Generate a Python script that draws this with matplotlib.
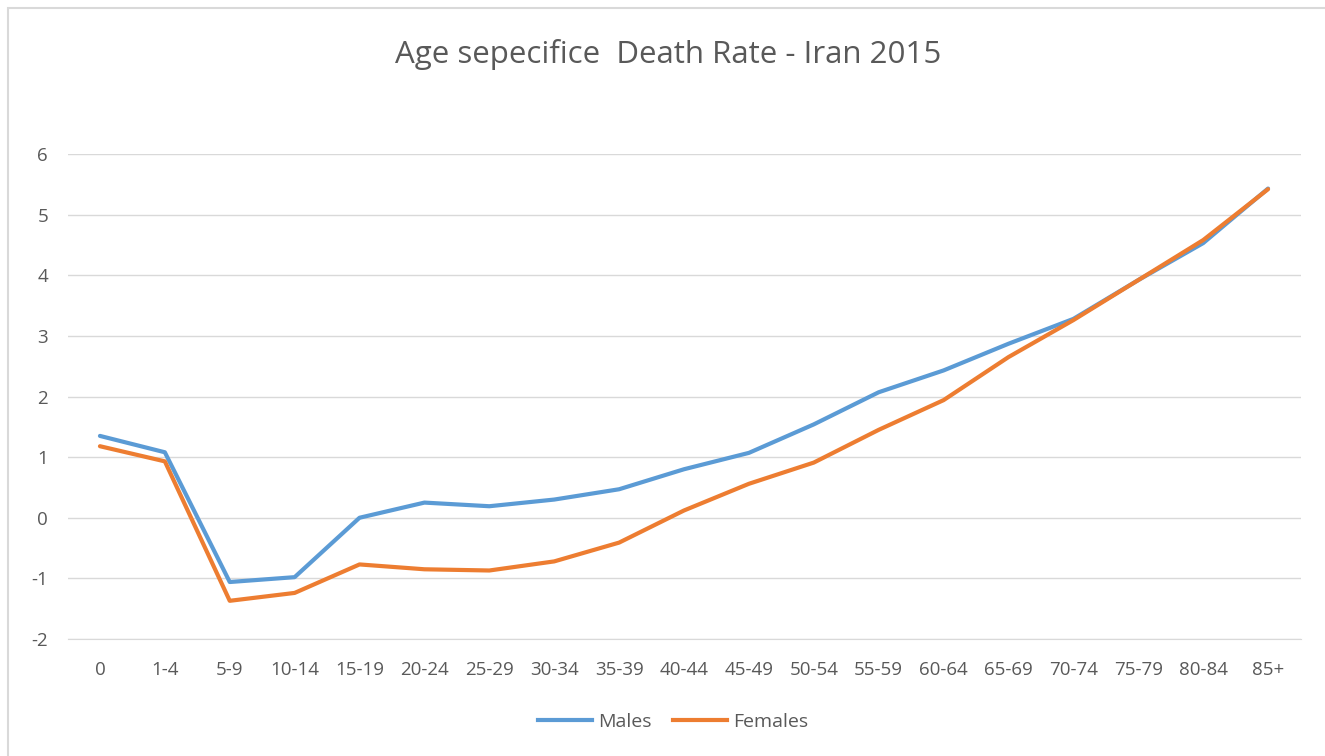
import matplotlib
matplotlib.use("Agg")
import matplotlib.pyplot as plt
from matplotlib.patches import Rectangle
from matplotlib.lines import Line2D

categories = ["0", "1-4", "5-9", "10-14", "15-19", "20-24", "25-29", "30-34", "35-39",
              "40-44", "45-49", "50-54", "55-59", "60-64", "65-69", "70-74", "75-79",
              "80-84", "85+"]
males = [1.35, 1.08, -1.06, -0.98, 0.00, 0.25, 0.19, 0.30, 0.47, 0.80, 1.07, 1.54,
         2.07, 2.43, 2.87, 3.28, 3.92, 4.53, 5.43]
females = [1.18, 0.93, -1.37, -1.24, -0.77, -0.85, -0.87, -0.72, -0.41, 0.12, 0.56,
           0.91, 1.45, 1.94, 2.65, 3.26, 3.92, 4.58, 5.42]
yticks = [-2, -1, 0, 1, 2, 3, 4, 5, 6]

plt.rcParams['font.family'] = ['Open Sans', 'DejaVu Sans']
W, H = 1325, 756
fig = plt.figure(figsize=(W / 100, H / 100), dpi=100)
ax = fig.add_axes([67.5 / W, (H - 639) / H, 1233 / W, 485 / H])

x = list(range(len(categories)))
blue = "#5B9BD5"
orange = "#ED7D31"
ax.plot(x, males, color=blue, lw=3, solid_joinstyle='round', solid_capstyle='round', zorder=3)
ax.plot(x, females, color=orange, lw=3, solid_joinstyle='round', solid_capstyle='round', zorder=4)

ax.set_xlim(-0.5, len(categories) - 0.5)
ax.set_ylim(-2, 6)
ax.set_yticks(yticks)
ax.set_yticklabels([str(v) for v in yticks])
ax.set_xticks(x)
ax.set_xticklabels(categories)
ax.grid(axis='y', color="#D9D9D9", lw=1)
ax.set_axisbelow(True)
for s in ax.spines.values():
    s.set_visible(False)
ax.tick_params(axis='both', length=0, labelsize=13.5, labelcolor="#595959")
ax.tick_params(axis='y', pad=14)
ax.tick_params(axis='x', pad=16)
ax.spines['bottom'].set_visible(True)
ax.spines['bottom'].set_color("#D9D9D9")

fig.text(668 / W, 1 - 55 / H, "Age sepecifice  Death Rate - Iran 2015", ha='center', va='center',
         fontsize=22.5, color="#595959")

# legend
handles = [Line2D([], [], color=blue, lw=3), Line2D([], [], color=orange, lw=3)]
fig.legend(handles, ["Males", "Females"], loc='center', bbox_to_anchor=(673 / W, 1 - 722 / H),
           ncol=2, frameon=False, fontsize=14, labelcolor="#595959", handlelength=2.8,
           columnspacing=1.1, handletextpad=0.3)

# chart border
fig.patches.append(Rectangle((8 / W, -0.01), 1.05, 1 - 8 / H + 0.01, transform=fig.transFigure,
                             fill=False, edgecolor="#D9D9D9", lw=1.5))

fig.savefig("out.png", dpi=100)
